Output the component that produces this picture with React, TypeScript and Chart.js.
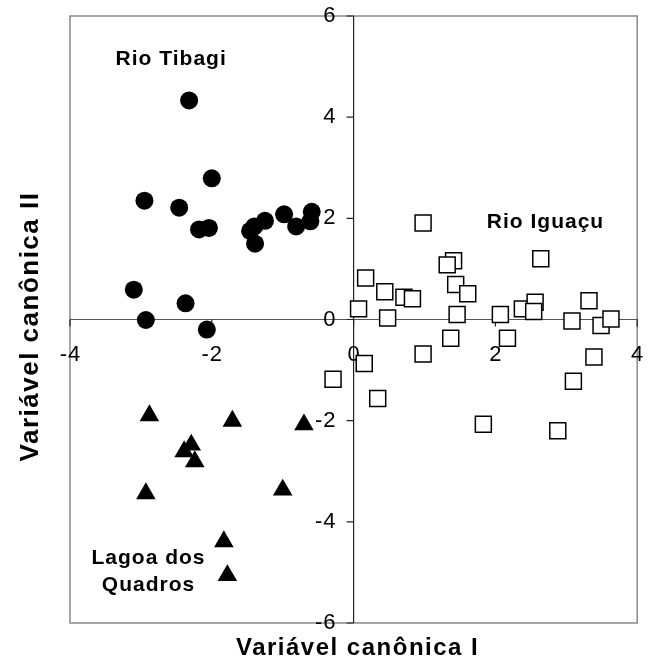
import React, { useEffect, useRef } from "react";
import { Chart, registerables } from "chart.js";

Chart.register(...registerables);

// Rio Tibagi (filled circles)
const tibagiX = [-2.32, -2.0, -2.95, -2.46, -2.18, -2.04, -1.46, -1.4, -1.39, -1.25, -0.98, -0.81, -0.61, -0.59, -3.1, -2.37, -2.93, -2.07];
const tibagiY = [4.33, 2.79, 2.35, 2.21, 1.78, 1.81, 1.75, 1.84, 1.5, 1.95, 2.08, 1.84, 1.94, 2.13, 0.59, 0.32, -0.01, -0.2];

// Lagoa dos Quadros (filled triangles)
const lagoaX = [-2.88, -1.71, -0.7, -2.29, -2.39, -2.24, -2.93, -1.0, -1.83, -1.78];
const lagoaY = [-1.9, -2.01, -2.08, -2.48, -2.61, -2.81, -3.44, -3.37, -4.39, -5.06];

// Rio Iguaçu (open squares)
const iguacuX = [0.98, 1.41, 1.32, 2.64, 0.17, 1.44, 1.61, 0.44, 0.71, 0.83, 0.07, 0.48, 1.46, 2.07, 2.38, 2.56, 2.54, 3.32, 3.08, 3.49, 3.63, 1.37, 2.17, 0.98, 0.15, 3.39, 3.1, 0.34, 1.83, 2.88, -0.29];
const iguacuY = [1.91, 1.16, 1.08, 1.2, 0.82, 0.69, 0.51, 0.55, 0.44, 0.41, 0.21, 0.03, 0.1, 0.1, 0.21, 0.34, 0.16, 0.37, -0.03, -0.12, 0.01, -0.37, -0.37, -0.68, -0.87, -0.74, -1.22, -1.56, -2.07, -2.2, -1.18];

const xTicks = [-4, -2, 0, 2, 4];
const yTicks = [-6, -4, -2, 0, 2, 4, 6];

const xTitle = "Variável canônica I";
const yTitle = "Variável canônica II";

const groupLabels = ["Rio Tibagi", "Rio Iguaçu", "Lagoa dos", "Quadros"];
const groupLabelX = [-2.58, 2.7, -2.9, -2.9];
const groupLabelY = [5.03, 1.81, -4.83, -5.36];

const FONT = "'Liberation Sans', Arial, Helvetica, sans-serif";

const toPoints = (xs: number[], ys: number[]) => xs.map((x, i) => ({ x, y: ys[i] }));

const axesPlugin = {
  id: "centerAxes",
  beforeDatasetsDraw(chart: any) {
    const { ctx, chartArea, scales } = chart;
    const xs = scales.x;
    const ys = scales.y;
    const x0 = xs.getPixelForValue(0);
    const y0 = ys.getPixelForValue(0);
    ctx.save();
    // plot box
    ctx.strokeStyle = "#8a8a8a";
    ctx.lineWidth = 1.5;
    ctx.strokeRect(chartArea.left, chartArea.top, chartArea.right - chartArea.left, chartArea.bottom - chartArea.top);
    // zero lines
    ctx.strokeStyle = "#555";
    ctx.lineWidth = 1.2;
    ctx.beginPath();
    ctx.moveTo(chartArea.left, y0);
    ctx.lineTo(chartArea.right, y0);
    ctx.stroke();
    ctx.strokeStyle = "#222";
    ctx.beginPath();
    ctx.moveTo(x0, chartArea.top);
    ctx.lineTo(x0, chartArea.bottom);
    ctx.stroke();
    // ticks
    ctx.strokeStyle = "#222";
    ctx.lineWidth = 1.2;
    ctx.beginPath();
    yTicks.forEach((v) => {
      const py = ys.getPixelForValue(v);
      ctx.moveTo(x0 - 7, py);
      ctx.lineTo(x0, py);
    });
    xTicks.forEach((v) => {
      const px = xs.getPixelForValue(v);
      ctx.moveTo(px, y0);
      ctx.lineTo(px, y0 + 7);
    });
    ctx.stroke();
    // tick labels
    ctx.fillStyle = "#000";
    ctx.font = `22px ${FONT}`;
    (ctx as any).letterSpacing = "1px";
    ctx.textAlign = "right";
    ctx.textBaseline = "middle";
    yTicks.forEach((v) => {
      ctx.fillText(String(v), x0 - 17, ys.getPixelForValue(v));
    });
    ctx.textAlign = "center";
    xTicks.forEach((v) => {
      ctx.fillText(String(v), xs.getPixelForValue(v) + 0.5, y0 + 35);
    });
    // axis titles
    (ctx as any).letterSpacing = "1.5px";
    ctx.font = `bold 24px ${FONT}`;
    ctx.textAlign = "center";
    ctx.textBaseline = "alphabetic";
    ctx.fillText(xTitle, (chartArea.left + chartArea.right) / 2 + 4, chartArea.bottom + 32);
    ctx.save();
    ctx.font = `bold 26px ${FONT}`;
    ctx.translate(chartArea.left - 32, (chartArea.top + chartArea.bottom) / 2 + 7);
    ctx.rotate(-Math.PI / 2);
    ctx.fillText(yTitle, 0, 0);
    ctx.restore();
    ctx.restore();
  },
  afterDatasetsDraw(chart: any) {
    const { ctx, scales } = chart;
    ctx.save();
    ctx.fillStyle = "#000";
    ctx.font = `bold 21px ${FONT}`;
    (ctx as any).letterSpacing = "1px";
    ctx.textAlign = "center";
    ctx.textBaseline = "alphabetic";
    groupLabels.forEach((t, i) => {
      ctx.fillText(t, scales.x.getPixelForValue(groupLabelX[i]) + 0.5, scales.y.getPixelForValue(groupLabelY[i]));
    });
    ctx.restore();
  },
};

export default function App() {
  const ref = useRef<HTMLCanvasElement | null>(null);
  useEffect(() => {
    document.body.style.margin = "0";
    if (!ref.current) return;
    const chart = new Chart(ref.current, {
      type: "scatter",
      data: {
        datasets: [
          {
            label: "Rio Tibagi",
            data: toPoints(tibagiX, tibagiY),
            pointStyle: "circle",
            pointRadius: 9,
            backgroundColor: "#000",
            borderColor: "#000",
            borderWidth: 0,
          },
          {
            label: "Lagoa dos Quadros",
            data: toPoints(lagoaX, lagoaY),
            pointStyle: "triangle",
            pointRadius: 11.3,
            backgroundColor: "#000",
            borderColor: "#000",
            borderWidth: 0,
          },
          {
            label: "Rio Iguaçu",
            data: toPoints(iguacuX, iguacuY),
            pointStyle: "rect",
            pointRadius: 11.3,
            backgroundColor: "#fff",
            borderColor: "#000",
            borderWidth: 1.5,
          },
        ],
      },
      options: {
        animation: false,
        responsive: true,
        maintainAspectRatio: false,
        layout: { padding: { top: 16, right: 12, bottom: 38, left: 70 } },
        plugins: { legend: { display: false }, tooltip: { enabled: false } },
        scales: {
          x: {
            type: "linear",
            min: -4,
            max: 4,
            grid: { display: false, drawTicks: false },
            border: { display: false },
            ticks: { display: false },
            title: { display: false },
          },
          y: {
            type: "linear",
            min: -6,
            max: 6,
            grid: { display: false, drawTicks: false },
            border: { display: false },
            ticks: { display: false },
            title: { display: false },
          },
        },
      },
      plugins: [axesPlugin],
    });
    return () => chart.destroy();
  }, []);
  return (
    <div style={{ width: 650, height: 661, position: "relative" }}>
      <canvas ref={ref} />
    </div>
  );
}
